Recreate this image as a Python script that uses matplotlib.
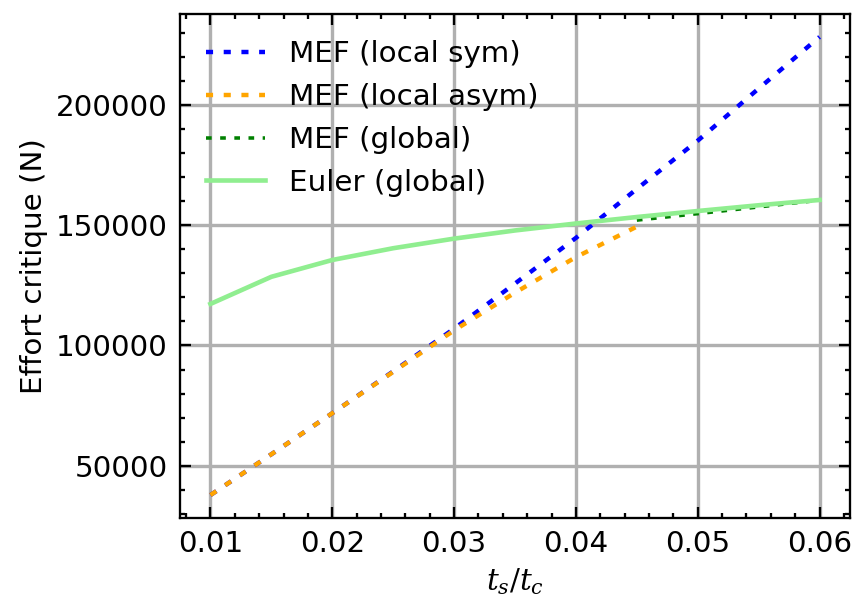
import numpy as np
import matplotlib.pyplot as plt

ratio = [0.010, 0.015, 0.020, 0.025, 0.030, 0.035, 0.040, 0.045, 0.050, 0.055, 0.060]

mef_local_sym = [37700, 54700, 71800, 89200, 107000, 125800, 144800, 165200, 185300, 207000, 228500]
mef_local_asym = [37700, 54700, 71800, 89000, 106300, 122000, 136800, 149500]
mef_global = [152200, 154900, 157700, 160500]
euler_global = [117300, 128600, 135600, 140500, 144500, 147900, 150800, 153500, 156000, 158400, 160600]

if __name__ == "__main__":
    plt.rcParams['font.size'] = 8.3
    plt.rcParams['mathtext.fontset'] = 'dejavuserif'
    plt.rcParams['axes.linewidth'] = 0.65

    dpi = 255
    fig = plt.figure(figsize=(855 / dpi, 601 / dpi), dpi=dpi)
    ax = plt.gca()
    fig.subplots_adjust(left=0.2105, right=0.9942, top=0.9767, bottom=0.1381)

    dash = (0, (1.6, 2.4))
    ax.plot(ratio, mef_local_sym, color='blue', linestyle=dash, lw=1.25, label='MEF (local sym)')
    ax.plot(ratio[:len(mef_local_asym)], mef_local_asym, color='orange', linestyle=dash, lw=1.25,
            label='MEF (local asym)')
    ax.plot(ratio[-len(mef_global):], mef_global, color='green', linestyle=dash, lw=1.0,
            label='MEF (global)')
    ax.plot(ratio, euler_global, color='lightgreen', lw=1.3, label='Euler (global)')

    ax.grid(True, color='#b0b0b0', linewidth=0.95)
    ax.set_axisbelow(True)
    ax.minorticks_on()
    ax.tick_params(which='both', direction='in', top=True, right=True, width=0.65)
    ax.tick_params(which='major', length=3)
    ax.tick_params(which='minor', length=1.5)
    ax.grid(False, which='minor')

    ax.set_xticks([0.01, 0.02, 0.03, 0.04, 0.05, 0.06])
    ax.set_xlabel(r'$t_s/t_c$', labelpad=2.2)
    ax.set_ylabel('Effort critique (N)', labelpad=2.0)
    ax.legend(loc='upper left', frameon=False)

    plt.savefig('out.png', dpi=dpi)
